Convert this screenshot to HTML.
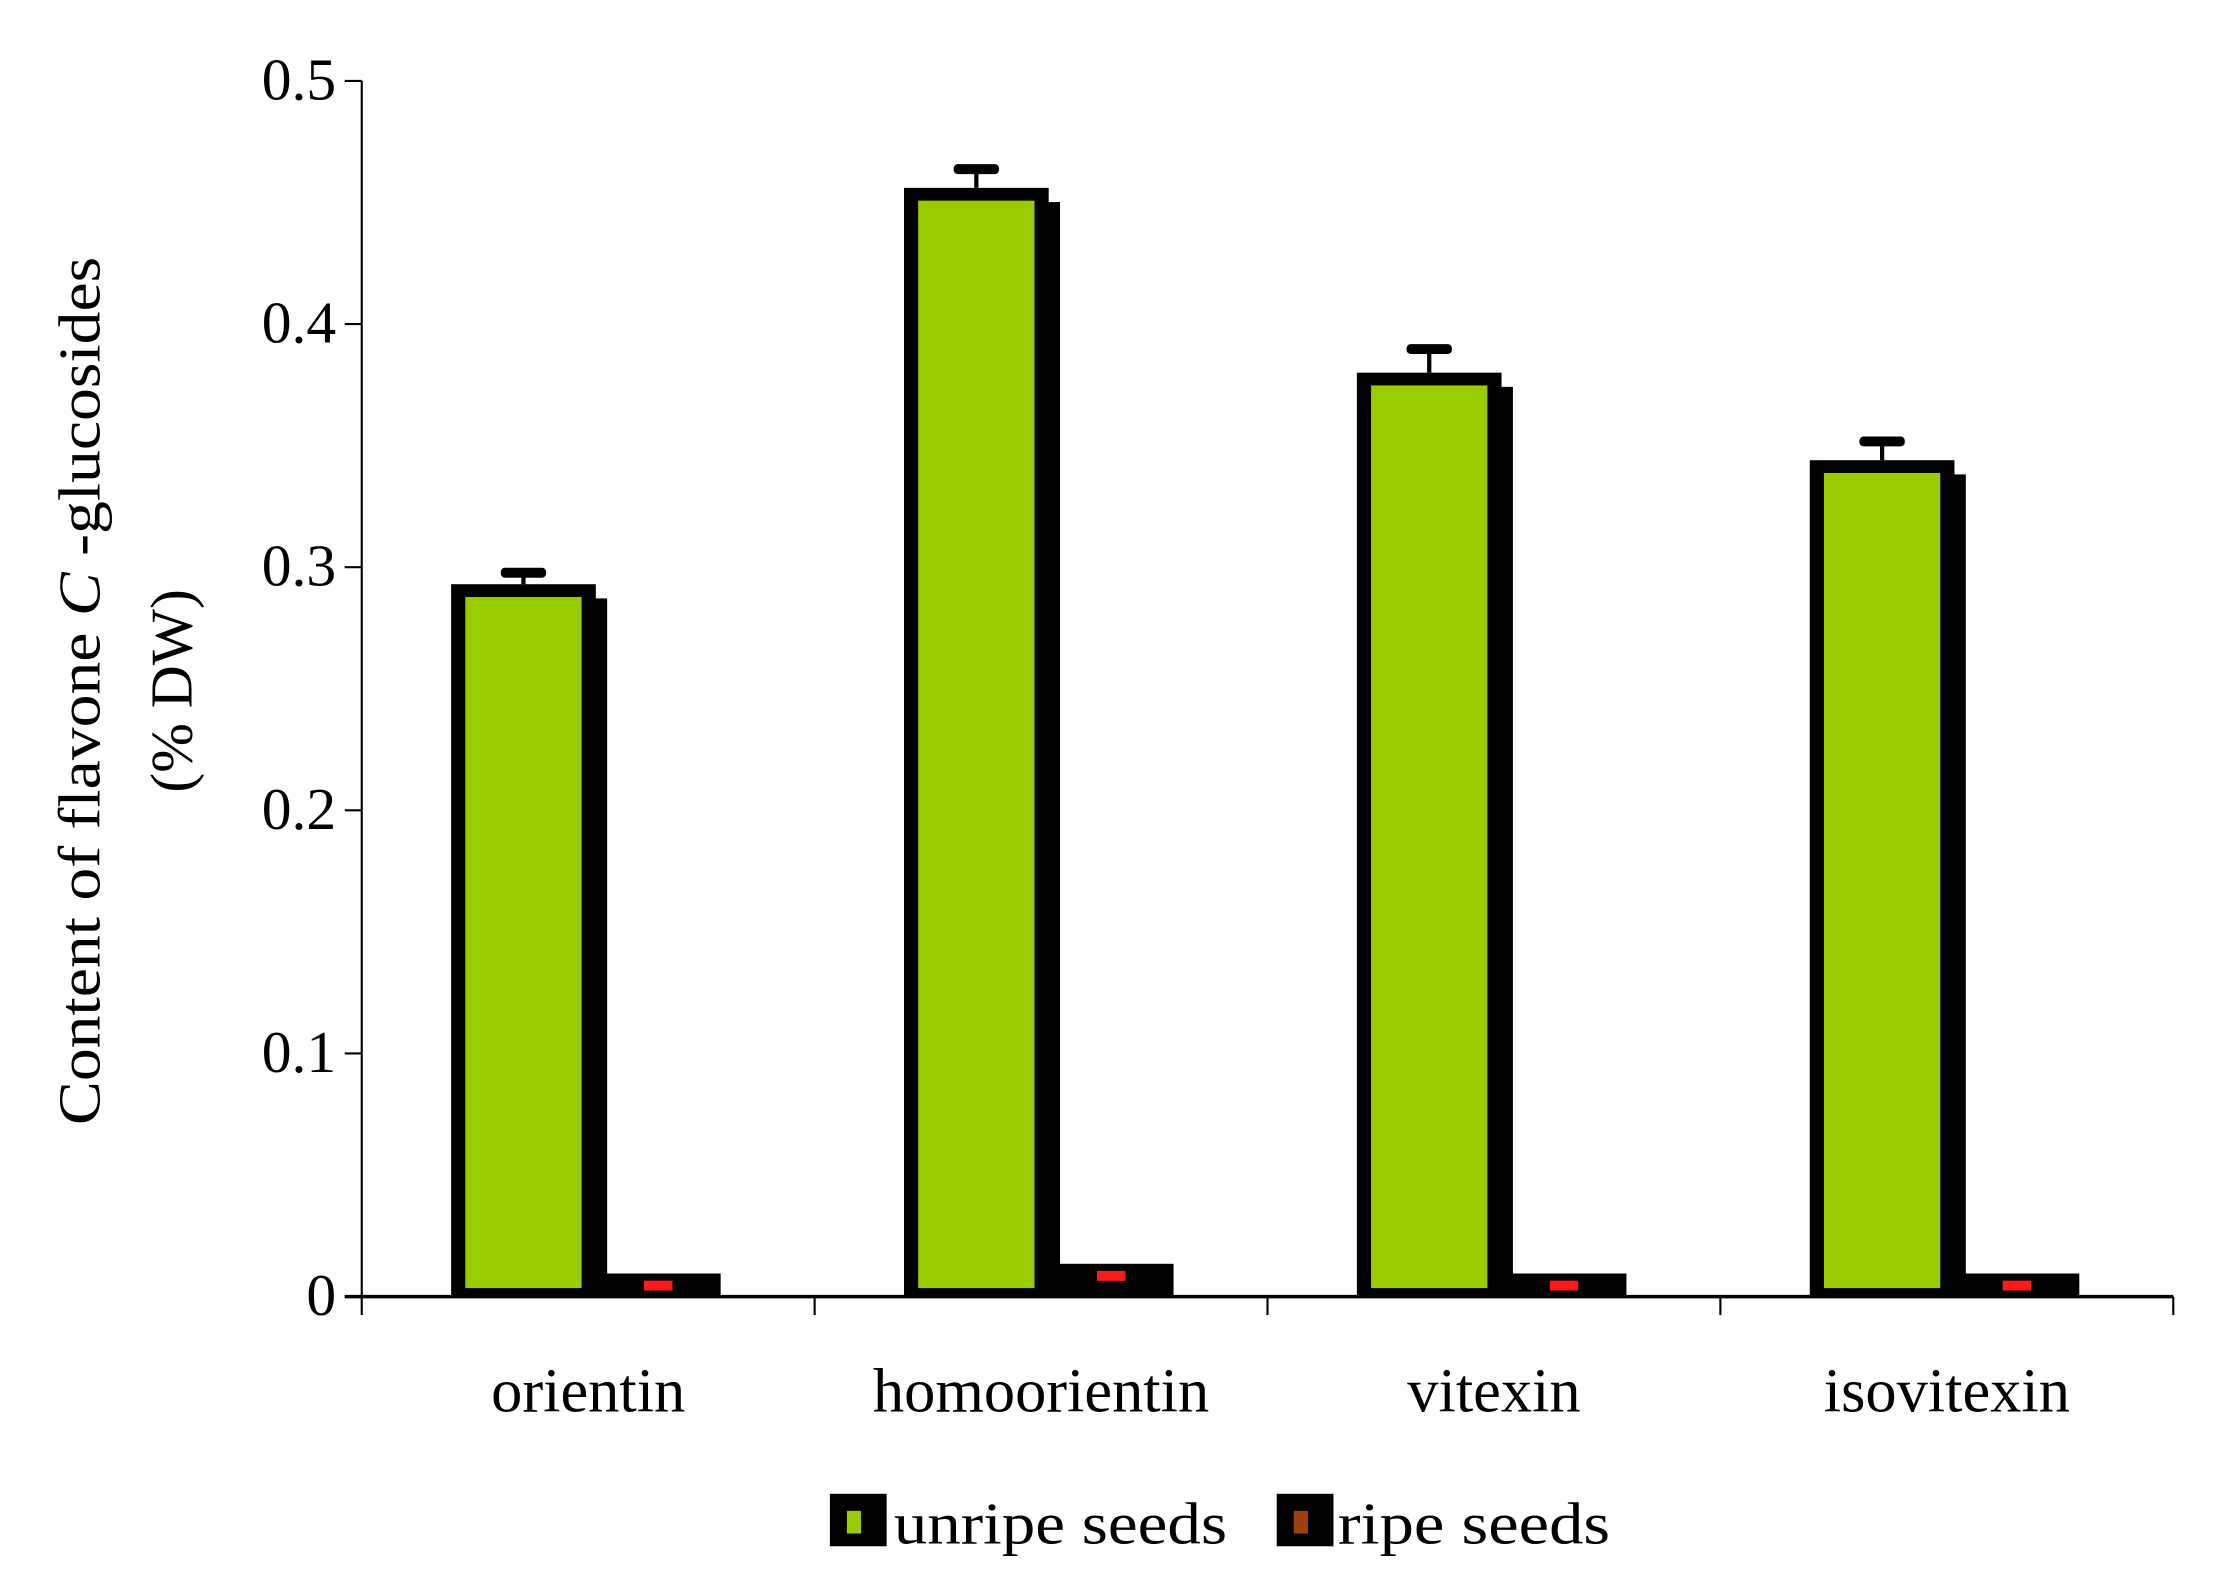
<!DOCTYPE html>
<html><head><meta charset="utf-8">
<style>html,body{margin:0;padding:0;background:#fff}svg{display:block}text{font-family:"Liberation Serif",serif;fill:#000}</style>
</head><body>
<svg id="chart" width="2213" height="1591" viewBox="0 0 1560 1121.5" xmlns="http://www.w3.org/2000/svg">
<g id="axes"></g>
<g id="bars"></g>
<text transform="translate(70,487) rotate(-90)" text-anchor="middle" font-size="42" textLength="612" lengthAdjust="spacingAndGlyphs">Content of  flavone <tspan font-style="italic">C</tspan> -glucosides</text>
<text transform="translate(135,487) rotate(-90)" text-anchor="middle" font-size="42">(% DW)</text>
<g>
<rect x="585" y="1053" width="40" height="37" fill="#000"/>
<rect x="597" y="1065" width="10" height="16" fill="#99cc00"/>
<text x="630" y="1088" font-size="42" textLength="235" lengthAdjust="spacingAndGlyphs">unripe seeds</text>
<rect x="900" y="1053" width="40" height="37" fill="#000"/>
<rect x="912" y="1065" width="10" height="16" fill="#a04010"/>
<text x="943" y="1088" font-size="42" textLength="192" lengthAdjust="spacingAndGlyphs">ripe seeds</text>
</g>
</svg>
<script>
const categories = ["orientin","homoorientin","vitexin","isovitexin"];
const unripe = [0.293, 0.456, 0.380, 0.344];
const unripeErr = [0.005, 0.008, 0.010, 0.008];
const ripe = [0.006, 0.010, 0.006, 0.006];
const yTicks = [0, 0.1, 0.2, 0.3, 0.4, 0.5];
const yTickLabels = ["0","0.1","0.2","0.3","0.4","0.5"];

const NS = "http://www.w3.org/2000/svg";
const X0 = 255, X1 = 1532, Y0 = 914, Ytop = 57, YMAX = 0.5;
const catW = (X1 - X0) / categories.length;
function y(v){ return Y0 - v / YMAX * (Y0 - Ytop); }
function cx(i){ return X0 + i * catW; }
function mk(tag, attrs, parent){ const e = document.createElementNS(NS, tag); for (const k in attrs) e.setAttribute(k, attrs[k]); parent.appendChild(e); return e; }
const axes = document.getElementById('axes');
const bars = document.getElementById('bars');

let el = mk('line', {x1:X0, y1:Ytop, x2:X0, y2:Y0, stroke:'#000', 'stroke-width':1.5}, axes);


el = mk('line', {x1:X0-12, y1:Y0, x2:X1, y2:Y0, stroke:'#000', 'stroke-width':2.5}, axes);



yTicks.forEach((t, i) => {
  const l = mk('line', {x1:X0-12, y1:y(t), x2:X0, y2:y(t), stroke:'#000', 'stroke-width':1.5}, axes);
  
  
  const tx = mk('text', {x:X0-18, y:y(t)+13, 'text-anchor':'end', 'font-size':42}, axes);
  tx.textContent = yTickLabels[i];
  
  
});
for (let i = 0; i <= categories.length; i++) {
  const l = mk('line', {x1:cx(i), y1:Y0, x2:cx(i), y2:Y0+13, stroke:'#000', 'stroke-width':1.5}, axes);
  
  
}
categories.forEach((c, i) => {
  const t = mk('text', {x:cx(i)+catW/2, y:995, 'text-anchor':'middle', 'font-size':44}, axes);
  t.textContent = c;
  
  
});

categories.forEach((c, i) => {
  const base = cx(i);
  const gx = base + 63, gw = 102, top = y(unripe[i]);
  let s = mk('rect', {x:gx+8, y:top+10, width:gw, height:Y0-top-10, fill:'#000'}, bars);
  
  
  const ey = y(unripe[i] + unripeErr[i]);
  s = mk('line', {x1:gx+gw/2, y1:ey, x2:gx+gw/2, y2:top, stroke:'#000', 'stroke-width':3}, bars);
  
  
  s = mk('rect', {x:gx+gw/2-16, y:ey-3, width:32, height:7, rx:3, fill:'#000'}, bars);
  
  
  s = mk('rect', {x:gx, y:top, width:gw, height:Y0-top, fill:'#000'}, bars);
  
  
  s = mk('rect', {x:gx+10, y:top+9, width:gw-20, height:Y0-top-9-6, fill:'#99cc00'}, bars);
  
  
  const rx = gx + gw, rw = 88, rtop = y(ripe[i]) - 6;
  s = mk('rect', {x:rx, y:rtop, width:rw, height:Y0-rtop, fill:'#000'}, bars);
  
  
  s = mk('rect', {x:rx+rw/2-10, y:y(ripe[i])-1, width:20, height:7, fill:'#ff1a1a'}, bars);
  
  
});
</script>
</body></html>
